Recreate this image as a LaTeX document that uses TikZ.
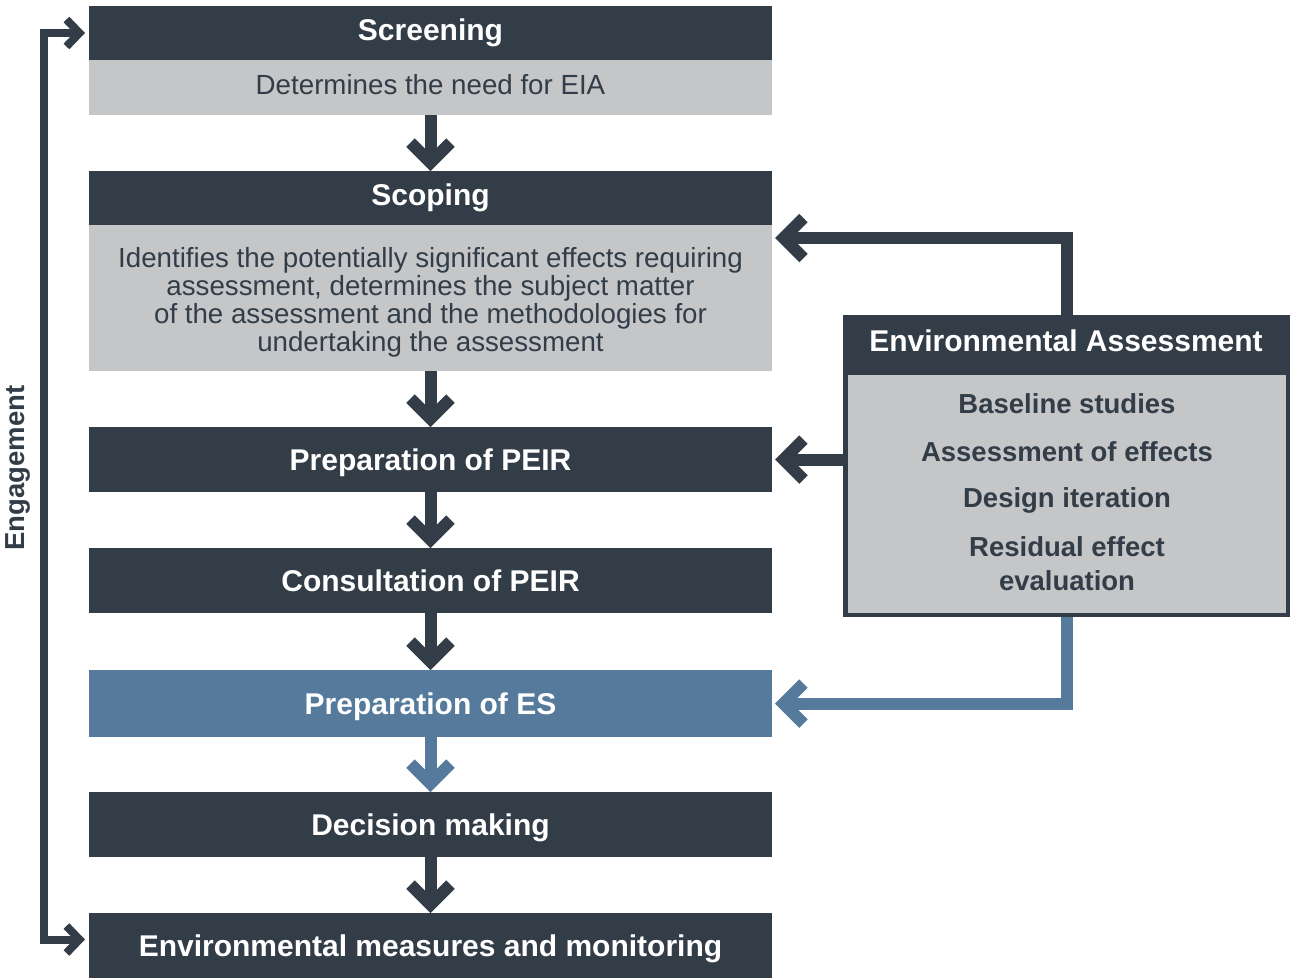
\documentclass[tikz,border=0pt]{standalone}
\usepackage{fontspec}
\setmainfont{Liberation Sans}
\usetikzlibrary{arrows.meta}
\definecolor{dk}{RGB}{51,61,71}
\definecolor{gy}{RGB}{196,198,200}
\definecolor{bl}{RGB}{85,122,155}
\begin{document}
\begin{tikzpicture}[x=1pt,y=-1pt,
  box/.style={anchor=north west, minimum width=683pt, inner sep=0pt, outer sep=0pt, align=center},
  head/.style={box, fill=dk, text=white, font=\fontsize{30}{34}\selectfont\bfseries, text height=21pt, text depth=0pt},
  body/.style={box, fill=gy, text=dk, font=\fontsize{27.7}{28}\selectfont},
  item/.style={text=dk, font=\fontsize{27.5}{34}\selectfont\bfseries, align=center, inner sep=0pt},
  arr/.style={line width=12pt, draw=dk, -{Straight Barb[length=20pt,width=40pt,sharp]}},
  eng/.style={line width=8pt, draw=dk, {Straight Barb[length=13pt,width=27pt,sharp]}-{Straight Barb[length=13pt,width=27pt,sharp]}}
]
\useasboundingbox (0,0) rectangle (1290,978);

% main column
\node[head, minimum height=54pt, text depth=6pt] (screenhead) at (89,6) {Screening};
\node[body, minimum height=55pt, text height=20pt, text depth=6pt] (screenbody) at (89,60) {Determines the need for EIA};
\node[head, minimum height=54pt, text depth=6pt] (scopehead) at (89,171) {Scoping};
\node[body, minimum height=146pt, text height=112pt] (scopebody) at (89,225) {Identifies the potentially significant effects requiring\\assessment, determines the subject matter\\of the assessment and the methodologies for\\undertaking the assessment};
\node[head, minimum height=65pt] (peir) at (89,427) {Preparation of PEIR};
\node[head, minimum height=65pt] (cpeir) at (89,548) {Consultation of PEIR};
\node[head, minimum height=67pt, fill=bl] (es) at (89,670) {Preparation of ES};
\node[head, minimum height=65pt] (dm) at (89,792) {Decision making};
\node[head, minimum height=65pt] (emm) at (89,913) {Environmental measures and monitoring};

% environmental assessment box
\node[anchor=north west, fill=dk, minimum width=447pt, minimum height=302pt, inner sep=0pt, outer sep=0pt] (ea) at (843,315) {};
\node[anchor=north west, fill=gy, minimum width=438pt, minimum height=238pt, inner sep=0pt, outer sep=0pt] (eabody) at (848,375) {};
\node[text=white, font=\fontsize{30}{34}\selectfont\bfseries, inner sep=0pt, text height=21pt, text depth=0pt] (eatitle) at (1066,341) {Environmental Assessment};
\node[item] (i1) at (1067,404) {Baseline studies};
\node[item] (i2) at (1067,452) {Assessment of effects};
\node[item] (i3) at (1067,500) {Design iteration};
\node[item] (i4) at (1067,564) {Residual effect\\evaluation};

% engagement
\node[rotate=90, text=dk, font=\fontsize{27.5}{30}\selectfont\bfseries, inner sep=0pt] (englabel) at (18,468) {Engagement};
\draw[eng] ([xshift=-4pt]screenhead.west) -- ++(-41,0) |- ([xshift=-4pt,yshift=6pt]emm.west);

% down arrows
\draw[arr] (screenbody.south) -- (scopehead.north);
\draw[arr] (scopebody.south) -- (peir.north);
\draw[arr] (peir.south) -- (cpeir.north);
\draw[arr] (cpeir.south) -- (es.north);
\draw[arr, draw=bl] (es.south) -- (dm.north);
\draw[arr] (dm.south) -- (emm.north);

% feedback arrows
\draw[arr] (ea.north) |- ([xshift=3pt,yshift=-13pt]scopebody.north east);
\draw[arr] (ea.west |- peir.east) -- ([xshift=3pt]peir.east);
\draw[arr, draw=bl] (ea.south) |- ([xshift=3pt]es.east);
\end{tikzpicture}
\end{document}
